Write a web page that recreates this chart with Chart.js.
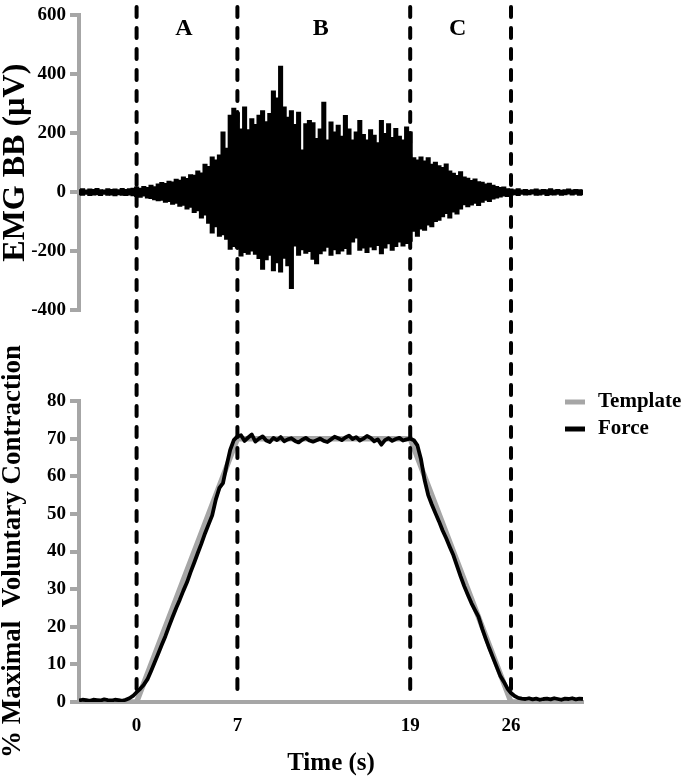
<!DOCTYPE html>
<html>
<head>
<meta charset="utf-8">
<script src="https://cdn.jsdelivr.net/npm/chart.js@4.4.0/dist/chart.umd.min.js"></script>
<style>
  html, body { margin: 0; padding: 0; background: #fff; }
  #wrap { position: relative; width: 685px; height: 779px; }
  #wrap canvas { position: absolute; left: 0; top: 0; }
</style>
</head>
<body>
<div id="wrap">
  <canvas id="force-chart" width="685" height="779"></canvas>
  <canvas id="emg-chart" width="685" height="330"></canvas>
</div>
<script>
// sampling grid (s) shared by the EMG bins and the force trace
const sampleStart = -4;
const sampleStep = 0.25;

// phase boundaries and names
const phaseTimes = [0, 7, 19, 26];
const phaseNames = ['A', 'B', 'C'];
const timeTicks = [0, 7, 19, 26];

// EMG BB (uV): max and min of the raw signal in each 0.25 s bin
const emgHigh = [
  9, 12, 8, 11, 10, 13, 9, 8, 12, 10, 11, 9, 13, 10, 12, 14,
  18, 14, 20, 16,
  24, 19, 28, 33,
  30, 38, 35, 44,
  41, 52, 47, 60,
  58, 72, 66, 95,
  88, 120, 110, 127,
  205, 150, 262, 285,
  270, 215, 290, 212,
  250, 230, 262, 277,
  240, 268, 344, 320,
  428, 290, 255, 277,
  230, 272, 144, 233,
  244, 236, 183, 215,
  306, 178, 239, 205,
  228, 190, 261, 215,
  178, 205, 244, 196,
  178, 212, 194, 168,
  244, 200, 233, 186,
  217, 190, 178, 222,
  205, 117, 110, 120,
  106, 117, 95, 102,
  90, 84, 96, 72,
  65, 57, 70, 52,
  48, 40, 45, 36,
  34, 28, 31, 24,
  20, 16, 18, 12,
  11, 9, 12, 8, 10, 7, 9, 11, 8, 10, 9, 12, 8, 10, 7, 9, 11, 8, 10, 9, 8
];
const emgLow = [
  -9, -11, -8, -12, -10, -9, -12, -8, -11, -10, -13, -9, -11, -12, -10, -13,
  -15, -18, -14, -20,
  -22, -26, -30, -28,
  -35, -32, -42, -38,
  -48, -45, -58, -52,
  -70, -64, -88, -78,
  -106, -139, -118, -150,
  -145, -160, -194, -185,
  -190, -217, -205, -211,
  -200, -211, -226, -262,
  -230, -215, -267, -240,
  -272, -225, -250, -328,
  -183, -215, -196, -208,
  -202, -228, -244, -210,
  -200, -188, -215, -196,
  -210, -200, -192, -211,
  -170, -156, -198, -190,
  -205, -187, -196, -182,
  -210, -190, -176, -198,
  -185, -170, -183, -175,
  -167, -133, -150, -126,
  -130, -112, -118, -100,
  -96, -84, -73, -88,
  -68, -75, -58, -43,
  -50, -44, -38, -46,
  -35, -28, -32, -24,
  -20, -17, -14, -15,
  -11, -9, -12, -8, -10, -9, -7, -11, -10, -8, -12, -9, -10, -8, -11, -9, -7, -10, -8, -11, -9
];

// force (% MVC), one value per 0.25 s
const forceValues = [
  0.4, 0.6, 0.5, 0.3, 0.6, 0.5, 0.4, 0.7, 0.5, 0.4, 0.6, 0.5, 0.3,
  0.6, 1.0, 1.6,
  2.6, 3.5, 4.6, 6.0, 8.2, 10.5, 12.8, 15.2, 17.5, 20.1, 22.6, 25.0, 27.2, 29.6,
  31.8, 34.5, 37.0, 39.6, 42.1, 44.8, 47.2, 49.6, 53.8, 56.9, 58.2, 62.8, 67.0, 69.6, 70.6,
  70.9, 69.4, 70.3, 71.1, 69.2, 70.0, 70.6, 69.5, 69.1, 70.2,
  69.6, 70.4, 69.3, 69.8, 70.1, 69.4, 69.0, 69.7, 70.2, 69.5,
  69.2, 69.6, 70.0, 69.4, 69.1, 69.8, 70.5, 70.1, 69.6, 70.3,
  70.8, 69.9, 70.4, 69.5, 70.0, 70.7, 70.2, 69.3, 69.8, 68.4,
  69.6, 70.1, 69.4, 69.9, 70.2, 69.5, 69.8, 70.0,
  69.6, 68.2, 64.5, 59.0, 55.0, 52.5, 50.2, 48.0, 45.6, 43.5, 41.2, 39.0, 36.2, 33.4, 30.8,
  28.5, 26.3, 24.4, 22.6, 19.5, 16.8, 14.2, 11.8, 9.4, 7.0, 5.4, 3.6, 2.4, 1.6, 1.1, 0.9,
  0.8, 1.0, 0.7, 0.9, 0.6, 0.8, 0.9, 0.7, 1.0, 0.8, 0.6, 0.9, 0.8, 1.0, 0.7, 0.9, 0.8
];

// template (% MVC)
const templateTime = [-4, 0, 7, 19, 26, 31];
const templateValue = [0, 0, 70, 70, 0, 0];

const timeMin = -4;
const timeMax = 31;

const sampleTime = emgHigh.map((v, i) => sampleStart + i * sampleStep);

const serif = '"Liberation Serif", "Times New Roman", serif';
const axisGray = '#a6a6a6';
Chart.defaults.font.family = serif;
Chart.defaults.font.weight = 'bold';
Chart.defaults.color = '#000';

function yAxis(min, max, step, title, titleSize) {
  return {
    min: min,
    max: max,
    ticks: { stepSize: step, padding: 4, font: { size: 19 }, color: '#000' },
    grid: { drawOnChartArea: false, drawTicks: true, tickLength: 9, lineWidth: 4, color: axisGray },
    border: { display: true, width: 4, color: axisGray },
    title: { display: true, text: title, font: { size: titleSize, lineHeight: 1 }, padding: 0, color: '#000' },
    afterFit: (scale) => { scale.width = 79; }
  };
}

// dashed phase boundaries across both panels
const phaseLines = {
  id: 'phaseLines',
  afterDatasetsDraw(chart) {
    const { ctx, chartArea, scales } = chart;
    ctx.save();
    ctx.strokeStyle = '#000';
    ctx.lineWidth = 4;
    ctx.lineCap = 'round';
    ctx.setLineDash([10, 11]);
    phaseTimes.forEach(t => {
      const x = scales.x.getPixelForValue(t);
      ctx.beginPath();
      ctx.moveTo(x, 7);
      ctx.lineTo(x, chartArea.bottom - 4);
      ctx.stroke();
    });
    ctx.restore();
  }
};

// legend at the top right of the force panel
const sideLegend = {
  id: 'sideLegend',
  afterDraw(chart) {
    const { ctx, chartArea } = chart;
    ctx.save();
    ctx.font = 'bold 21px ' + serif;
    ctx.textBaseline = 'middle';
    chart.data.datasets.forEach((ds, i) => {
      const y = chartArea.top + 1 + i * 27;
      ctx.strokeStyle = ds.borderColor;
      ctx.lineWidth = 5;
      ctx.beginPath();
      ctx.moveTo(chartArea.right - 18, y);
      ctx.lineTo(chartArea.right + 2, y);
      ctx.stroke();
      ctx.fillStyle = '#000';
      ctx.fillText(ds.label, chartArea.right + 15, y);
    });
    ctx.restore();
  }
};

// A / B / C between the boundaries
const phaseLabels = {
  id: 'phaseLabels',
  afterDraw(chart) {
    const { ctx, scales } = chart;
    ctx.save();
    ctx.font = 'bold 24px ' + serif;
    ctx.textAlign = 'center';
    ctx.textBaseline = 'middle';
    ctx.fillStyle = '#000';
    phaseNames.forEach((name, i) => {
      const x = (scales.x.getPixelForValue(phaseTimes[i]) + scales.x.getPixelForValue(phaseTimes[i + 1])) / 2;
      ctx.fillText(name, x - 3, 29);
    });
    ctx.restore();
  }
};

new Chart(document.getElementById('force-chart'), {
  type: 'line',
  data: {
    datasets: [
      {
        label: 'Template',
        data: templateTime.map((t, i) => ({ x: t, y: templateValue[i] })),
        borderColor: axisGray,
        borderWidth: 5.5,
        pointRadius: 0,
        order: 1
      },
      {
        label: 'Force',
        data: forceValues.map((v, i) => ({ x: sampleStart + i * sampleStep, y: v })),
        borderColor: '#000',
        borderWidth: 3.8,
        pointRadius: 0,
        borderJoinStyle: 'round',
        order: 0
      }
    ]
  },
  options: {
    responsive: false,
    animation: false,
    events: [],
    layout: { padding: { top: 401, right: 102, bottom: 0, left: 0 } },
    plugins: { legend: { display: false }, tooltip: { enabled: false } },
    scales: {
      x: {
        type: 'linear',
        min: timeMin,
        max: timeMax,
        afterBuildTicks: (scale) => { scale.ticks = timeTicks.map(v => ({ value: v })); },
        ticks: { padding: 13, font: { size: 19 }, color: '#000', maxRotation: 0 },
        grid: { display: false, drawTicks: false },
        border: { display: true, width: 4, color: axisGray },
        title: { display: true, text: 'Time (s)', font: { size: 25, lineHeight: 1.2 }, padding: { top: 4, bottom: 0 }, color: '#000' },
        afterFit: (scale) => { scale.height = 77; }
      },
      y: yAxis(0, 80, 10, '% Maximal  Voluntary Contraction', 27)
    }
  },
  plugins: [phaseLines, sideLegend]
});

new Chart(document.getElementById('emg-chart'), {
  type: 'bar',
  data: {
    datasets: [{
      label: 'EMG BB',
      data: sampleTime.map((t, i) => ({ x: t, y: [emgLow[i], emgHigh[i]] })),
      backgroundColor: '#000',
      borderWidth: 0,
      barThickness: 4.4
    }]
  },
  options: {
    responsive: false,
    animation: false,
    events: [],
    layout: { padding: { top: 10, right: 102, bottom: 20, left: 0 } },
    plugins: { legend: { display: false }, tooltip: { enabled: false } },
    scales: {
      x: { type: 'linear', min: timeMin, max: timeMax, offset: false, display: false },
      y: yAxis(-400, 600, 200, 'EMG BB (µV)', 32)
    }
  },
  plugins: [phaseLabels]
});
</script>
</body>
</html>
